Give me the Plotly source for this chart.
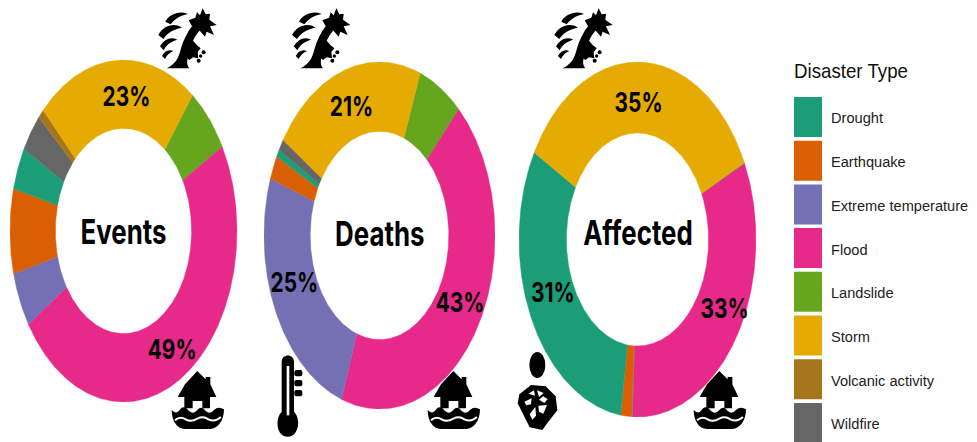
import base64
import numpy as np
import plotly.graph_objects as go

# Share of each disaster type, in percent
disaster_types = ["Drought", "Earthquake", "Extreme temperature", "Flood",
                  "Landslide", "Storm", "Volcanic activity", "Wildfire"]
events = [4.0, 8.0, 5.2, 49.0, 6.4, 22.9, 0.9, 3.6]
deaths = [0.7, 2.2, 25.0, 43.3, 6.3, 21.4, 0.1, 1.0]
affected = [30.9, 1.5, 0.1, 32.7, 0.1, 34.7, 0.0, 0.0]
colors = ["#1B9E77", "#D95F02", "#7570B3", "#E7298A",
          "#66A61E", "#E6AB02", "#A6761D", "#666666"]

W, H = 977, 442
HOLE = 0.6
LABEL_FONT = "Inter, Lato, sans-serif"
LEGEND_FONT = "Liberation Sans, Arial, sans-serif"
# Clockwise drawing order of the slices
ring_order = ["Landslide", "Flood", "Extreme temperature", "Earthquake",
              "Drought", "Wildfire", "Volcanic activity", "Storm"]

panels = [
    dict(name="Events", values=events, start=37.4, cx=123.5, cy=231, rx=113.5, ry=171,
         labels={"Storm": (126, 96), "Flood": (172, 349)}, title_y=231),
    dict(name="Deaths", values=deaths, start=20.6, cx=379.5, cy=235.5, rx=115.5, ry=173.5,
         labels={"Storm": (351, 106), "Extreme temperature": (294, 282), "Flood": (460, 302)}, title_y=233),
    dict(name="Affected", values=affected, start=64.3, cx=637.5, cy=239.5, rx=118.5, ry=177.5,
         labels={"Storm": (638, 102), "Drought": (553, 292), "Flood": (724, 308)}, title_y=232),
]


def px(x):
    return x / W


def py(y):
    return 1 - y / H


def wedge(a0, a1):
    """Ring segment between two clockwise angles measured from the top."""
    t = np.radians(np.linspace(a0, a1, max(int(a1 - a0) * 2, 3)))
    x = np.r_[np.sin(t), HOLE * np.sin(t[::-1]), np.sin(t[0])]
    y = np.r_[np.cos(t), HOLE * np.cos(t[::-1]), np.cos(t[0])]
    return x, y


def label(x, y, text, size, family=LABEL_FONT, color="black", weight="bold", left=False):
    return dict(x=px(x), y=py(y), xref="paper", yref="paper", text=text, showarrow=False,
                xanchor="left" if left else "center", yanchor="middle",
                align="left" if left else "center",
                font=dict(family=family, size=size, color=color, weight=weight))


fig = go.Figure()
annotations, shapes, images = [], [], []
axes = {}

for i, p in enumerate(panels):
    suffix = "" if i == 0 else str(i + 1)
    axes[f"xaxis{suffix}"] = dict(domain=[px(p["cx"] - p["rx"]), px(p["cx"] + p["rx"])],
                                  range=[-1, 1], visible=False, fixedrange=True)
    axes[f"yaxis{suffix}"] = dict(domain=[py(p["cy"] + p["ry"]), py(p["cy"] - p["ry"])],
                                  range=[-1, 1], visible=False, fixedrange=True)
    angle = p["start"]
    for kind in ring_order:
        k = disaster_types.index(kind)
        v = p["values"][k]
        if v <= 0:
            continue
        sweep = v / sum(p["values"]) * 360
        x, y = wedge(angle, angle + sweep)
        fig.add_trace(go.Scatter(x=x, y=y, xaxis=f"x{suffix}", yaxis=f"y{suffix}",
                                 mode="lines", fill="toself", fillcolor=colors[k],
                                 line=dict(color=colors[k], width=0.4),
                                 name=kind, showlegend=False, hoverinfo="name"))
        angle += sweep
    annotations.append(label(p["cx"], p["title_y"], p["name"], 34))
    for kind, (lx, ly) in p["labels"].items():
        share = p["values"][disaster_types.index(kind)]
        annotations.append(label(lx, ly, f"{round(share)}%", 27.5))

# Legend drawn by hand so the swatches can be taller than they are wide
annotations.append(label(792, 70, "Disaster Type", 21, LEGEND_FONT, "#111111", "normal", True))
for k, kind in enumerate(disaster_types):
    top = 97 + k * 43.7
    shapes.append(dict(type="rect", xref="paper", yref="paper", x0=px(794), x1=px(822),
                       y0=py(top), y1=py(top + 40), fillcolor=colors[k], line_width=0))
    annotations.append(label(829, top + 21, kind, 15.3, LEGEND_FONT, "#222222", "normal", True))

# Pictograms next to the largest slices
STORM = """
<path d="M46 50C58 28 88 16 114 27C90 32 74 42 62 58Z"/>
<path d="M25 90C40 62 72 52 96 68C72 72 52 82 40 102Z"/>
<path d="M30 124C44 102 62 94 82 104C62 110 50 118 41 136Z"/>
<path d="M36 153C44 138 56 132 70 138C58 144 50 151 45 162Z"/>
<path d="M50 190C76 178 86 160 93 130C100 106 112 82 126 64L148 78C132 96 122 120 117 146C111 165 108 176 118 190Z"/>
<path d="M116 46L136 38L141 22L150 31L158 10L167 28L180 26L178 44L200 60L180 64L192 90L170 80L165 95L150 78L132 74Z"/>
<path d="M104 146L118 124L128 106L140 120L152 130L143 141L145 160L129 157L118 165L103 152Z"/>
<circle cx="161" cy="142" r="6"/><circle cx="152" cy="153" r="5"/><circle cx="146" cy="167" r="6"/>
"""
HOUSE = """
<path fill-rule="evenodd" d="M97 18L122 43V36H136V58L154 96H135V130H58V96H38L60 58Z
M83 108H112V130H83Z"/>
<path d="M20 135Q35 152 48 130Q60 120 72 138Q85 150 97 135Q110 120 122 138Q135 150 147 135Q160 123 177 133
C177 165 160 192 135 192H60C35 192 20 165 20 135Z"/>
<path d="M30 166Q45 152 62 163Q78 173 97 161Q115 152 130 163Q150 172 168 156" fill="none" stroke="white" stroke-width="6"/>
"""
THERMOMETER = """
<path d="M50 36C50 10 87 10 87 36V185C108 205 103 260 68 260C33 260 30 205 50 185Z"/>
<rect x="65" y="48" width="8" height="148" fill="white"/>
<rect x="88" y="60" width="24" height="19" rx="6"/>
<rect x="88" y="90" width="24" height="19" rx="6"/>
<rect x="88" y="120" width="24" height="19" rx="6"/>
"""
PERSON = """
<ellipse cx="97" cy="60" rx="24" ry="39"/>
<path d="M78 120L122 124L152 154L157 196L127 234L112 255L74 247L53 205L38 175L43 148Z"/>
<g fill="white">
<path d="M70 146L87 136L90 152Z"/><path d="M96 136L116 144L102 156Z"/>
<path d="M58 170L80 160L78 178L64 181Z"/><path d="M114 154L128 162L118 174L102 164Z"/>
<path d="M74 208L91 186L93 212L82 224Z"/><path d="M100 182L126 180L115 206L102 200Z"/>
</g>
"""


def add_icon(svg_body, x, y, w, h, vw, vh):
    svg = (f'<svg xmlns="http://www.w3.org/2000/svg" width="{w}" height="{h}" '
           f'viewBox="0 0 {vw} {vh}" preserveAspectRatio="none">{svg_body}</svg>')
    src = "data:image/svg+xml;base64," + base64.b64encode(svg.encode()).decode()
    images.append(dict(source=src, xref="paper", yref="paper", x=px(x), y=py(y),
                       sizex=w / W, sizey=h / H, xanchor="left", yanchor="top",
                       sizing="stretch", layer="above"))


for dx in (0, 133.7, 396):
    add_icon(STORM, 150 + dx, 5, 75, 70, 225, 210)
for dx in (0, 256, 522):
    add_icon(HOUSE, 165 + dx, 365, 70, 70, 210, 210)
add_icon(THERMOMETER, 265, 350, 50, 92, 150, 276)
add_icon(PERSON, 505, 345, 60, 90, 180, 270)

fig.update_layout(width=W, height=H, margin=dict(l=0, r=0, t=0, b=0),
                  paper_bgcolor="white", plot_bgcolor="white", showlegend=False,
                  annotations=annotations, shapes=shapes, images=images, **axes)

# Condense the lettering horizontally once the text has been laid out
condense_text = """
document.querySelectorAll('#disaster-chart .annotation-text').forEach(function (t) {
    var size = parseFloat(t.style.fontSize);
    var k = size >= 25 ? 0.76 : (size >= 20 ? 0.89 : 0.955);
    t.setAttribute('textLength', t.getComputedTextLength() * k);
    t.setAttribute('lengthAdjust', 'spacingAndGlyphs');
});
"""
fig.write_html("out.html", config={"displayModeBar": False}, post_script=condense_text,
               div_id="disaster-chart")
